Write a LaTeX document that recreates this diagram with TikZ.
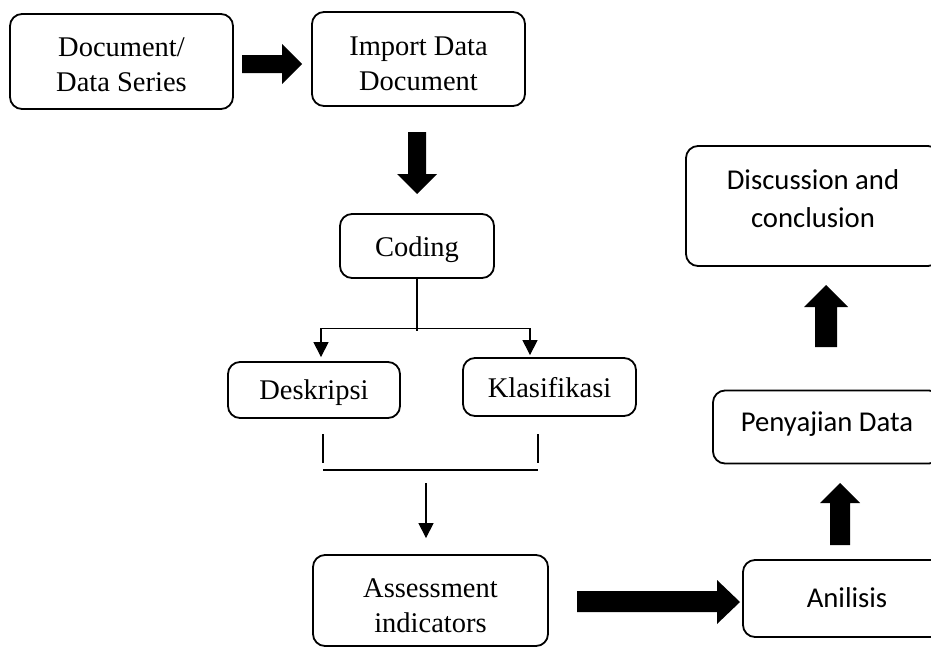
\documentclass[tikz,border=0pt]{standalone}
\usepackage{fontspec}
\setmainfont{Liberation Serif}
\newfontfamily\calfont{Carlito}
\usetikzlibrary{calc,arrows.meta}
\begin{document}
\begin{tikzpicture}[x=1pt,y=-1pt,
  box/.style={draw, line width=1.8pt, rounded corners=12pt, inner sep=0pt},
  txt/.style={align=center, inner sep=0pt, font=\fontsize{28.5}{35}\selectfont},
  ctxt/.style={align=center, inner sep=0pt, font=\calfont\fontsize{28.7}{38}\selectfont},
  thin/.style={line width=1.1pt},
  thick/.style={line width=2.2pt},
  thinarrow/.style={line width=1.1pt, -{Triangle[length=15pt,width=15pt]}},
  fat/.style={fill=black, draw=none}
]
\useasboundingbox (0,0) rectangle (931,648);

% boxes
\node[box, minimum width=223pt, minimum height=95pt] (doc) at (121.5,61.5) {};
\node[box, minimum width=213pt, minimum height=94pt] (imp) at (418.5,59) {};
\node[box, minimum width=154pt, minimum height=64pt] (cod) at (417,246) {};
\node[box, minimum width=172pt, minimum height=56pt] (des) at (314,390) {};
\node[box, minimum width=173pt, minimum height=58pt] (kla) at (549.5,387) {};
\node[box, minimum width=235pt, minimum height=91pt] (ass) at (430.5,600.5) {};
\node[box, minimum width=208pt, minimum height=77pt] (ani) at (847,598.5) {};
\node[box, minimum width=228pt, minimum height=73pt] (pen) at (827,427) {};
\node[box, minimum width=254pt, minimum height=120pt] (dis) at (813,206) {};

% texts
\node[txt] (docT) at ($(doc)+(0,3)$) {Document/\\Data Series};
\node[txt] (impT) at ($(imp)+(0,5)$) {Import Data\\Document};
\node[txt] (codT) at ($(cod)+(0,3.5)$) {Coding};
\node[txt] (desT) at ($(des)+(0,3)$) {Deskripsi};
\node[txt] (klaT) at ($(kla)+(0,1)$) {Klasifikasi};
\node[txt] (assT) at ($(ass)+(0,5)$) {Assessment\\indicators};
\node[ctxt] (aniT) at ($(ani)+(0,-1)$) {Anilisis};
\node[ctxt] (penT) at ($(pen)+(0,-3)$) {Penyajian Data};
\node[ctxt] (disT) at ($(dis)+(0,-7)$) {Discussion and\\conclusion};

% fat arrows
\fill[fat] (242,55) -- (282,55) -- (282,44) -- (302,64) -- (282,84) -- (282,73) -- (242,73) -- cycle;
\fill[fat] (408,132) -- (426,132) -- (426,174) -- (437,174) -- (417,194) -- (397,174) -- (408,174) -- cycle;
\fill[fat] (577,591) -- (717,591) -- (717,580) -- (740,602) -- (717,624) -- (717,612) -- (577,612) -- cycle;
\fill[fat] (830,545) -- (850,545) -- (850,503) -- (860,503) -- (840,483) -- (820,503) -- (830,503) -- cycle;
\fill[fat] (815,347) -- (837,347) -- (837,307) -- (848,307) -- (826,285) -- (804,307) -- (815,307) -- cycle;

% coding split
\coordinate (split) at ($(cod.south)+(0,50)$);
\draw[line width=1.8pt] (cod.south) -- ([yshift=-2pt]split);
\draw[thinarrow] (split) -| ([xshift=7pt,yshift=4pt]des.north);
\draw[thinarrow] (split) -| ([xshift=-19.5pt,yshift=2pt]kla.north);

% bracket
\coordinate (bl) at (323,470);
\coordinate (br) at (538,470);
\draw[thick] ($(bl)+(0,-36)$) -- ($(bl)+(0,-7)$);
\draw[thick] ($(br)+(0,-36)$) -- ($(br)+(0,-7)$);
\draw[line width=2.6pt] (bl) -- (br);
\coordinate (down) at (426,483);
\draw[thinarrow] (down) -- ([xshift=-4.5pt,yshift=16pt]ass.north);
\end{tikzpicture}
\end{document}
